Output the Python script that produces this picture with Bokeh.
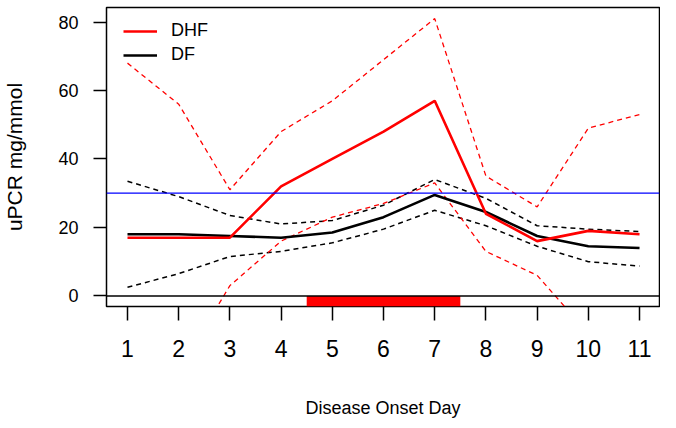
from bokeh.plotting import figure
from bokeh.models import Range1d, Span, Legend, LegendItem, FixedTicker
from bokeh.embed import file_html
from bokeh.resources import INLINE

# ---- data ----
days = [1, 2, 3, 4, 5, 6, 7, 8, 9, 10, 11]

dhf_mean = [17, 17, 17, 32, 40, 48, 57, 24, 16, 19, 18]
dhf_upper = [68, 56, 31, 48, 57, 69, 81, 35, 26, 49, 53]
dhf_lower = [-34, -22, 3, 16, 23, 27, 33, 13, 6, -11, -17]

df_mean = [18, 18, 17.5, 17, 18.5, 23, 29.5, 24.5, 17.5, 14.5, 14]
df_upper = [33.5, 29, 23.5, 21, 22, 26.5, 34, 28.5, 20.5, 19.5, 18.8]
df_lower = [2.5, 6.5, 11.5, 13, 15.5, 19.5, 25, 20.5, 14.5, 10, 8.7]

threshold = 30
critical_start = 4.5
critical_end = 7.5

y_ticks = [0, 20, 40, 60, 80]
x_ticks = days

FONT = "Liberation Sans"

p = figure(width=660, height=420, output_backend="svg", toolbar_location=None,
           x_range=Range1d(0.59, 11.39), y_range=Range1d(-3.1, 84.25),
           min_border_left=100, min_border_right=1, min_border_top=7,
           min_border_bottom=111)

p.grid.visible = False
p.outline_line_color = "black"
p.outline_line_width = 1.5
p.background_fill_color = "white"
p.border_fill_color = "white"

# critical phase bar
p.quad(left=[critical_start], right=[critical_end], bottom=[p.y_range.start], top=[0],
       fill_color="#ff0000", line_color=None)

p.add_layout(Span(location=0, dimension="width", line_color="black", line_width=1.5))
p.add_layout(Span(location=threshold, dimension="width", line_color="#0000ff", line_width=1.3))

# confidence bands
p.line(days, df_upper, line_color="black", line_width=1.5, line_dash="5 4")
p.line(days, df_lower, line_color="black", line_width=1.5, line_dash="5 4")
p.line(days, dhf_upper, line_color="#ff0000", line_width=1.3, line_dash="5 4")
p.line(days, dhf_lower, line_color="#ff0000", line_width=1.3, line_dash="5 4")

r_df = p.line(days, df_mean, line_color="black", line_width=2.6)
r_dhf = p.line(days, dhf_mean, line_color="#ff0000", line_width=2.6)

legend = Legend(items=[LegendItem(label="DHF", renderers=[r_dhf]),
                       LegendItem(label="DF", renderers=[r_df])],
                location=(17, 241), padding=0, margin=0, spacing=3,
                glyph_width=34, glyph_height=20, label_height=20,
                label_standoff=14, border_line_color=None,
                background_fill_alpha=0,
                label_text_font=FONT, label_text_font_size="18px",
                label_text_color="black")
p.add_layout(legend)

# axes
for ax in (p.xaxis[0], p.yaxis[0]):
    ax.axis_line_color = None
    ax.major_tick_line_color = "black"
    ax.major_tick_line_width = 1.5
    ax.major_tick_in = 0
    ax.minor_tick_line_color = None
    ax.major_label_text_font = FONT
    ax.major_label_text_color = "black"
    ax.axis_label_text_font = FONT
    ax.axis_label_text_font_style = "normal"
    ax.axis_label_text_color = "black"

p.yaxis.ticker = FixedTicker(ticks=y_ticks)
p.yaxis.major_tick_out = 13
p.yaxis.major_label_standoff = 15
p.yaxis.major_label_text_font_size = "18px"
p.yaxis.axis_label = "uPCR mg/mmol"
p.yaxis.axis_label_text_font_size = "21px"
p.yaxis.axis_label_standoff = 29

p.xaxis.ticker = FixedTicker(ticks=x_ticks)
p.xaxis.major_tick_out = 14
p.xaxis.major_label_standoff = 19
p.xaxis.major_label_text_font_size = "23px"
p.xaxis.axis_label = "Disease Onset Day"
p.xaxis.axis_label_text_font_size = "18px"
p.xaxis.axis_label_standoff = 38

open("out.html", "w").write(file_html(p, INLINE))
